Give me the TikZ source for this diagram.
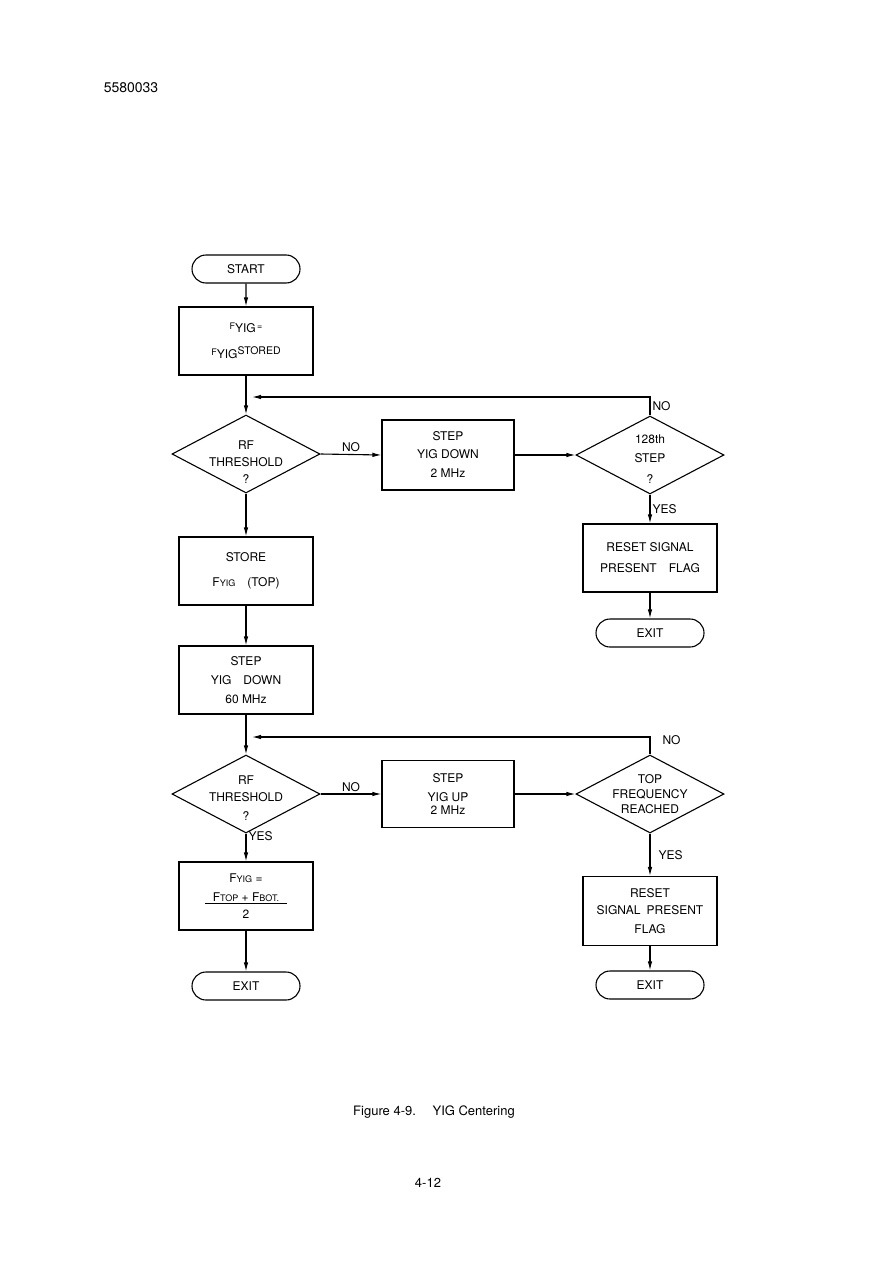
\documentclass[tikz,border=0pt]{standalone}
\usepackage{fontspec}
\setmainfont{TeX Gyre Heros}
\usetikzlibrary{shapes.geometric,shapes.misc,arrows.meta}

\newcommand{\sub}[1]{{\fontsize{9}{10}\selectfont #1}}

\tikzset{
  term/.style={draw, rounded rectangle, minimum width=108pt, minimum height=28pt, inner sep=0pt},
  proc/.style={draw, minimum width=134pt, minimum height=68pt, inner sep=0pt, align=center},
  decision/.style={draw, diamond, minimum width=148pt, minimum height=78pt, inner sep=0pt},
  dtext/.style={align=center, font=\fontsize{12}{17}\selectfont},
  lbl/.style={inner sep=2pt},
}

\begin{document}
\begin{tikzpicture}[x=1pt, y=-1pt, line width=1.1pt, >={Latex[length=9pt,width=4.5pt]},
    font=\fontsize{12}{19}\selectfont]
  \useasboundingbox (0,0) rectangle (874,1263);

  \node (docnum) at (131,88) {\fontsize{14}{16}\selectfont 5580033};

  % left column
  \node[term] (start) at (246,269) {START};
  \node[proc] (fstore) at (246,341)
    {\raisebox{3pt}{\sub{F}}YIG\raisebox{3pt}{\sub{\,=}}\\[7pt]
     \raisebox{3pt}{\sub{F}}YIG\raisebox{4pt}{\fontsize{10.5}{12}\selectfont STORED}};
  \node[decision, label={[dtext, yshift=-8pt]center:RF\\THRESHOLD\\?}] (thr1) at (246,454) {};
  \node[proc] (top) at (246,571) {STORE\\[6pt] F\sub{YIG}\quad(TOP)};
  \node[proc] (down60) at (246,680) {STEP\\YIG\quad DOWN\\60 MHz};
  \node[decision, label={[dtext, yshift=-4pt]center:RF\\THRESHOLD\\[2pt]?}] (thr2) at (246,794) {};
  \node[proc] (favg) at (246,896)
    {F\sub{YIG} =\\
     \underline{\hspace{8pt}F\sub{TOP} + F\sub{BOT.}\hspace{8pt}}\\[-2pt]
     2};
  \node[term] (exitl) at (246,986) {EXIT};

  % middle column
  \node[proc, minimum width=132pt, minimum height=70pt] (down2) at (448,455) {STEP\\[-1pt]YIG DOWN\\2 MHz};
  \node[proc, minimum width=132pt, minimum height=67pt] (up2) at (448,794) {STEP\\YIG UP\\[-6pt]2 MHz};

  % right column
  \node[decision, label={[dtext, yshift=-4pt]center:128th\\[2pt]STEP\\[4pt]?}] (step128) at (650,455) {};
  \node[proc] (reset1) at (650,558) {RESET SIGNAL\\[2pt]PRESENT\quad FLAG};
  \node[term] (exitr1) at (650,633) {EXIT};
  \node[decision, label={[dtext, font=\fontsize{12}{15}\selectfont]center:TOP\\FREQUENCY\\REACHED}] (topf) at (650,794) {};
  \node[proc, minimum height=69pt] (reset2) at (650,911) {RESET\\[-2pt]SIGNAL\enspace PRESENT\\FLAG};
  \node[term] (exitr2) at (650,985) {EXIT};

  \coordinate (loop1) at (246,397);
  \coordinate (loop2) at (246,737);

  % connectors
  \draw[->] (start) -- (fstore);
  \draw[->] (fstore) -- (thr1);
  \draw[->, shorten >=6pt] (step128.north) |- (loop1)
    node[lbl, right, pos=0.25] {NO};
  \draw[->] (thr1.east) -- (down2.west) node[lbl, above, midway] {NO};
  \draw[->] (down2.east) -- (step128.west);
  \draw[->] (step128.south) -- (reset1.north) node[lbl, right, midway] {YES};
  \draw[->] (reset1) -- (exitr1);
  \draw[->] (thr1.south) -- (top.north);
  \draw[->] (top) -- (down60);
  \draw[->] (down60.south) -- (thr2.north);
  \draw[->, shorten >=6pt] (topf.north) |- (loop2)
    node[lbl, anchor=west, pos=0.5, yshift=-3pt, xshift=10pt] {NO};
  \draw[->] (thr2.east) -- (up2.west) node[lbl, above, midway] {NO};
  \draw[->] (up2.east) -- (topf.west);
  \draw[->] (topf.south) -- (reset2.north) node[lbl, right, midway, xshift=6pt] {YES};
  \draw[->] (reset2) -- (exitr2);
  \draw[->] (thr2.south) -- (favg.north) node[lbl, right, pos=0.1] {YES};
  \draw[->] (favg) -- (exitl);

  \node (caption) at (434,1112) {\fontsize{13}{15}\selectfont Figure 4-9.\quad\ YIG Centering};
  \node (pageno) at (428,1183) {\fontsize{13}{15}\selectfont 4-12};
\end{tikzpicture}
\end{document}
